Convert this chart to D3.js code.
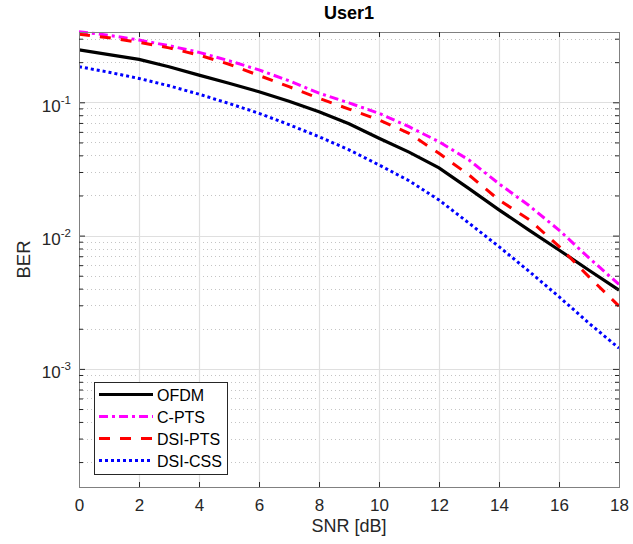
<!DOCTYPE html>
<html>
<head>
<meta charset="utf-8">
<script src="https://cdn.jsdelivr.net/npm/d3@7"></script>
<style>
    body { margin: 0; background: #fff; }
    text { font-family: "Liberation Sans", Arial, Helvetica, sans-serif; fill: #262626; }
</style>
</head>
<body>
<div id="chart"></div>
<script>
// SNR points (dB)
var snr = [0, 1, 2, 3, 4, 5, 6, 7, 8, 9, 10, 11, 12, 13, 14, 15, 16, 17, 18];

// BER
var berOFDM = [0.247, 0.228, 0.210, 0.185, 0.160, 0.139, 0.120, 0.102, 0.085, 0.069,
    0.0537, 0.0423, 0.0322, 0.0225, 0.0156, 0.011, 0.0078, 0.0055, 0.0039];
var berCPTS = [0.339, 0.318, 0.293, 0.266, 0.237, 0.205, 0.175, 0.145, 0.117, 0.099,
    0.0827, 0.0656, 0.0506, 0.0369, 0.0245, 0.0168, 0.011, 0.0068, 0.0043];
var berDSIPTS = [0.324, 0.305, 0.282, 0.256, 0.226, 0.193, 0.159, 0.131, 0.107, 0.089,
    0.0736, 0.0585, 0.0414, 0.0285, 0.0185, 0.0132, 0.0083, 0.0049, 0.00296];
var berDSICSS = [0.185, 0.168, 0.151, 0.133, 0.115, 0.098, 0.0827, 0.068, 0.0552, 0.044,
    0.0339, 0.0258, 0.0185, 0.0124, 0.00826, 0.0054, 0.00348, 0.0022, 0.00143];

var seriesNames = ["OFDM", "C-PTS", "DSI-PTS", "DSI-CSS"];
var xTicks = [0, 2, 4, 6, 8, 10, 12, 14, 16, 18];
var yDecades = [1e-3, 1e-2, 1e-1];

var series = [
    { name: seriesNames[0], values: berOFDM, color: "#000000", width: 3.2, dash: null },
    { name: seriesNames[1], values: berCPTS, color: "#ff00ff", width: 3, dash: "9,4,3,4" },
    { name: seriesNames[2], values: berDSIPTS, color: "#ff0000", width: 3, dash: "11,10" },
    { name: seriesNames[3], values: berDSICSS, color: "#0000ff", width: 3, dash: "3,3" }
];

var svgWidth = 633;
var svgHeight = 544;

var margin = {
    top: 32,
    bottom: 57,
    right: 14,
    left: 79
};

var height = svgHeight - margin.top - margin.bottom;
var width = svgWidth - margin.left - margin.right;

var svg = d3.select("#chart")
    .append("svg")
    .attr("width", svgWidth)
    .attr("height", svgHeight);

var chartGroup = svg.append("g")
    .attr("transform", `translate(${margin.left}, ${margin.top})`);

var xLinearScale = d3.scaleLinear()
    .domain([0, 18])
    .range([0, width]);

var yLogScale = d3.scaleLog()
    .domain([1.30e-4, 0.3368])
    .range([height, 0]);

// minor values 2..9 x 10^n inside the domain
var yMinor = [];
[1e-4, 1e-3, 1e-2, 1e-1].forEach(function (dec) {
    for (var k = 2; k <= 9; k++) {
        var v = k * dec;
        if (v > yLogScale.domain()[0] && v < yLogScale.domain()[1]) yMinor.push(v);
    }
});

// grid
chartGroup.append("g").selectAll("line")
    .data(yMinor)
    .enter()
    .append("line")
    .attr("x1", 0).attr("x2", width)
    .attr("y1", d => Math.round(yLogScale(d)) + 0.5)
    .attr("y2", d => Math.round(yLogScale(d)) + 0.5)
    .attr("stroke", "#c4c4c4")
    .attr("stroke-width", 1)
    .attr("stroke-dasharray", "1,3");

chartGroup.append("g").selectAll("line")
    .data(xTicks.slice(1, -1))
    .enter()
    .append("line")
    .attr("x1", d => Math.round(xLinearScale(d)) + 0.5)
    .attr("x2", d => Math.round(xLinearScale(d)) + 0.5)
    .attr("y1", 0).attr("y2", height)
    .attr("stroke", "#dfdfdf")
    .attr("stroke-width", 1.2);

chartGroup.append("g").selectAll("line")
    .data(yDecades)
    .enter()
    .append("line")
    .attr("x1", 0).attr("x2", width)
    .attr("y1", d => Math.round(yLogScale(d)) + 0.5)
    .attr("y2", d => Math.round(yLogScale(d)) + 0.5)
    .attr("stroke", "#dfdfdf")
    .attr("stroke-width", 1.2);

// curves
var lineGen = d3.line()
    .x((d, i) => xLinearScale(snr[i]))
    .y(d => yLogScale(d));

svg.append("defs").append("clipPath").attr("id", "plotClip")
    .append("rect").attr("x", 0).attr("y", -2).attr("width", width + 2).attr("height", height + 2);

chartGroup.append("g")
    .attr("clip-path", "url(#plotClip)")
    .selectAll("path")
    .data(series)
    .enter()
    .append("path")
    .attr("d", d => lineGen(d.values))
    .attr("fill", "none")
    .attr("stroke", d => d.color)
    .attr("stroke-width", d => d.width)
    .attr("stroke-dasharray", d => d.dash);

// axes (box with inward ticks)
var bottomAxis = d3.axisBottom(xLinearScale).tickValues(xTicks).tickSize(-5).tickPadding(12);
var topAxis = d3.axisTop(xLinearScale).tickValues(xTicks).tickSize(-5).tickFormat("");
var leftAxis = d3.axisLeft(yLogScale).tickValues(yDecades).tickSize(-6).tickFormat("");
var rightAxis = d3.axisRight(yLogScale).tickValues(yDecades).tickSize(-6).tickFormat("");
var leftMinor = d3.axisLeft(yLogScale).tickValues(yMinor).tickSize(-4).tickFormat("");
var rightMinor = d3.axisRight(yLogScale).tickValues(yMinor).tickSize(-4).tickFormat("");

var xAxis = chartGroup.append("g")
    .attr("transform", `translate(0, ${height})`)
    .call(bottomAxis);
chartGroup.append("g").call(topAxis);
chartGroup.append("g").call(leftAxis);
chartGroup.append("g").call(leftMinor);
chartGroup.append("g").attr("transform", `translate(${width}, 0)`).call(rightAxis);
chartGroup.append("g").attr("transform", `translate(${width}, 0)`).call(rightMinor);

chartGroup.selectAll(".domain").attr("stroke", "#808080");
chartGroup.selectAll(".tick line").attr("stroke", "#262626");

xAxis.selectAll("text")
    .attr("font-size", "17px")
    .attr("font-family", "'Liberation Sans', Arial, sans-serif")
    .attr("fill", "#262626");

// y tick labels 10^n
var yLabels = chartGroup.append("g");
yDecades.forEach(function (d) {
    var t = yLabels.append("text")
        .attr("x", -8)
        .attr("y", yLogScale(d) + 9.5)
        .attr("text-anchor", "end")
        .attr("font-size", "17px");
    t.append("tspan").text("10");
    t.append("tspan")
        .attr("dy", -8)
        .attr("font-size", "11.5px")
        .text(Math.round(Math.log10(d)));
});

// title and labels
svg.append("text")
    .attr("x", margin.left + width / 2)
    .attr("y", 19)
    .attr("text-anchor", "middle")
    .attr("font-size", "18px")
    .attr("font-weight", "bold")
    .style("fill", "#000")
    .text("User1");

svg.append("text")
    .attr("x", margin.left + width / 2)
    .attr("y", 532)
    .attr("text-anchor", "middle")
    .attr("font-size", "18px")
    .text("SNR [dB]");

svg.append("text")
    .attr("transform", "rotate(-90)")
    .attr("x", -(margin.top + height / 2))
    .attr("y", 30)
    .attr("text-anchor", "middle")
    .attr("font-size", "18.5px")
    .text("BER");

// legend
var legend = svg.append("g");
legend.append("rect")
    .attr("x", 94.5).attr("y", 382.5)
    .attr("width", 133).attr("height", 92)
    .attr("fill", "#fff")
    .attr("stroke", "#262626")
    .attr("stroke-width", 1);

var legendRows = legend.selectAll("g.row")
    .data(series)
    .enter()
    .append("g")
    .attr("class", "row")
    .attr("transform", (d, i) => `translate(0, ${394.5 + i * 22})`);

legendRows.append("line")
    .attr("x1", 99).attr("x2", 153)
    .attr("y1", 0).attr("y2", 0)
    .attr("stroke", d => d.color)
    .attr("stroke-width", d => d.width)
    .attr("stroke-dasharray", d => d.dash);

legendRows.append("text")
    .attr("x", 157)
    .attr("y", 6)
    .attr("font-size", "16px")
    .style("fill", "#000")
    .text(d => d.name);
</script>
</body>
</html>
